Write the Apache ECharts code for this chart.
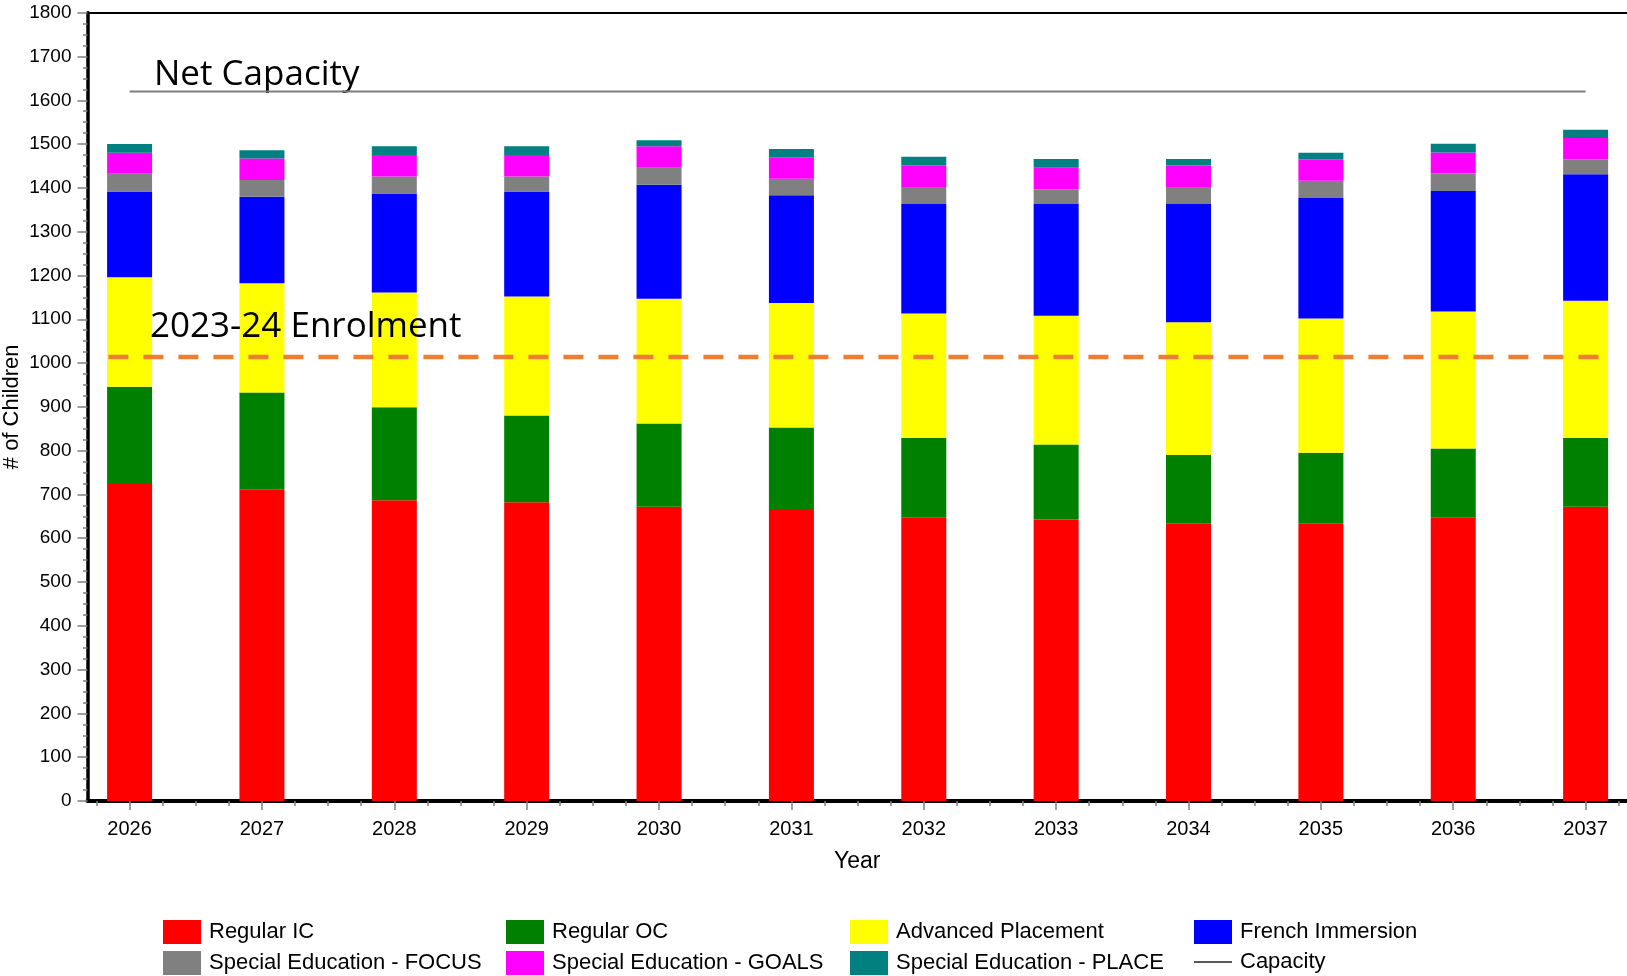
<!DOCTYPE html>
<html>
<head>
<meta charset="utf-8">
<script src="https://cdn.jsdelivr.net/npm/echarts@6/dist/echarts.min.js"></script>
<style>
html,body{margin:0;padding:0;background:#fff;}
#chart{width:1627px;height:976px;}
</style>
</head>
<body>
<div id="chart"></div>
<script>
// ---- data ----
const years = [2026, 2027, 2028, 2029, 2030, 2031, 2032, 2033, 2034, 2035, 2036, 2037];
const regularIC      = [726, 712, 687, 682, 672, 667, 648, 643, 633, 633, 648, 672];
const regularOC      = [220, 221, 212, 198, 190, 186, 181, 171, 157, 162, 157, 157];
const advPlacement   = [250, 249, 262, 272, 285, 284, 284, 294, 303, 307, 313, 313];
const frenchImm      = [196, 198, 226, 240, 260, 246, 250, 255, 270, 275, 275, 289];
const specFocus      = [40, 38, 39, 34, 39, 38, 39, 34, 39, 39, 40, 34];
const specGoals      = [48, 49, 49, 49, 49, 49, 49, 49, 49, 49, 48, 49];
const specPlace      = [20, 19, 20, 20, 14, 19, 20, 20, 15, 15, 20, 19];
const capacityValue  = 1620;
const enrolmentValue = 1014;
const yMin = 0, yMax = 1800, yInterval = 100;

const seriesNames = ['Regular IC', 'Regular OC', 'Advanced Placement', 'French Immersion',
  'Special Education - FOCUS', 'Special Education - GOALS', 'Special Education - PLACE'];
const seriesValues = [regularIC, regularOC, advPlacement, frenchImm, specFocus, specGoals, specPlace];
const seriesColors = ['#FF0000', '#008000', '#FFFF00', '#0000FF', '#808080', '#FF00FF', '#008080'];

// ---- axis helpers ----
const xMin = years[0] - 0.318;
const xMax = years[years.length - 1] + 0.313;
const quarterTicks = [];
for (let q = years[0] - 0.25; q <= years[years.length - 1] + 0.26; q += 0.25) {
  const v = Math.round(q * 100) / 100;
  if (Math.abs(v - Math.round(v)) > 0.01) quarterTicks.push(v);
}
const enrolStart = years[0] - 0.16;
const enrolEnd = years[years.length - 1] + 0.12;

const sans = '"Liberation Sans", Arial, sans-serif';
const yearLabels = years.map(String);

const chart = echarts.init(document.getElementById('chart'), null, {renderer: 'canvas'});

// stacked bars live on a category axis (grid 0) whose bands line up with the year scale of grid 1
const series = seriesNames.map((name, k) => ({
  name: name,
  type: 'bar',
  stack: 'total',
  xAxisIndex: 0,
  yAxisIndex: 0,
  barWidth: 45,
  itemStyle: {color: seriesColors[k]},
  emphasis: {disabled: true},
  data: seriesValues[k]
}));

series.push({
  name: 'Capacity',
  type: 'line',
  xAxisIndex: 1,
  yAxisIndex: 1,
  symbol: 'none',
  itemStyle: {color: '#7F7F7F'},
  lineStyle: {color: '#7F7F7F', width: 2},
  emphasis: {disabled: true},
  z: 5,
  data: years.map(y => [y, capacityValue])
});
series.push({
  name: '2023-24 Enrolment',
  type: 'line',
  xAxisIndex: 1,
  yAxisIndex: 1,
  symbol: 'none',
  itemStyle: {color: '#ED7D31'},
  lineStyle: {color: '#ED7D31', width: 4.5, type: [20, 15]},
  emphasis: {disabled: true},
  z: 6,
  data: [[enrolStart, enrolmentValue], [enrolEnd, enrolmentValue]]
});

const legendBase = {
  orient: 'vertical',
  padding: 0,
  top: 920,
  itemWidth: 38,
  itemHeight: 24,
  itemGap: 7,
  selectedMode: false,
  symbolKeepAspect: true,
  textStyle: {fontFamily: sans, fontSize: 22, color: '#000', padding: [0, 0, 0, 3]}
};
const legendCols = [
  {left: 163, data: [{name: 'Regular IC', icon: 'rect'}, {name: 'Special Education - FOCUS', icon: 'rect'}]},
  {left: 506, data: [{name: 'Regular OC', icon: 'rect'}, {name: 'Special Education - GOALS', icon: 'rect'}]},
  {left: 850, data: [{name: 'Advanced Placement', icon: 'rect'}, {name: 'Special Education - PLACE', icon: 'rect'}]},
  {left: 1194, data: [{name: 'French Immersion', icon: 'rect'},
    {name: 'Capacity', icon: 'path://M0,0H38V1.3H0Z', itemStyle: {color: '#222'}}]}
];

const option = {
  animation: false,
  backgroundColor: '#fff',
  grid: [
    {left: 63.4, right: -24.8, top: 12.7, bottom: 175, containLabel: false, outerBoundsMode: 'none'},
    {left: 87.5, right: 0, top: 12.7, bottom: 175, containLabel: false, outerBoundsMode: 'none'}
  ],
  legend: legendCols.map(c => Object.assign({}, legendBase, c)),
  xAxis: [
    {
      type: 'category', gridIndex: 0, data: yearLabels, boundaryGap: true, show: false
    },
    {
      type: 'value', gridIndex: 1, position: 'bottom', min: xMin, max: xMax,
      axisLine: {show: true, onZero: false, lineStyle: {color: '#000', width: 4}},
      axisTick: {show: true, customValues: years, length: 9, lineStyle: {color: '#808080', width: 1.5}},
      axisLabel: {show: true, customValues: years, margin: 18, fontFamily: sans, fontSize: 20, color: '#000',
        formatter: v => String(Math.round(v))},
      splitLine: {show: false},
      name: 'Year', nameLocation: 'middle', nameGap: 49,
      nameTextStyle: {fontFamily: sans, fontSize: 23, color: '#000'}
    },
    {
      type: 'value', gridIndex: 1, position: 'bottom', min: xMin, max: xMax,
      axisLine: {show: false},
      axisTick: {show: true, customValues: quarterTicks, length: 5, lineStyle: {color: '#808080', width: 1.5}},
      axisLabel: {show: false},
      splitLine: {show: false}
    },
    {
      type: 'value', gridIndex: 1, position: 'top', min: xMin, max: xMax,
      axisLine: {show: true, onZero: false, lineStyle: {color: '#000', width: 2}},
      axisTick: {show: false},
      axisLabel: {show: false},
      splitLine: {show: false}
    }
  ],
  yAxis: [
    {
      type: 'value', gridIndex: 0, min: yMin, max: yMax, interval: yInterval, show: false
    },
    {
      type: 'value', gridIndex: 1, min: yMin, max: yMax, interval: yInterval,
      axisLine: {show: true, lineStyle: {color: '#000', width: 3.5}},
      axisTick: {show: true, length: 10, lineStyle: {color: '#808080', width: 1.5}},
      minorTick: {show: true, splitNumber: 4, length: 4.5, lineStyle: {color: '#808080', width: 1.5}},
      axisLabel: {margin: 16, fontFamily: sans, fontSize: 19, color: '#000', formatter: v => String(v)},
      splitLine: {show: false},
      minorSplitLine: {show: false},
      name: '# of Children', nameLocation: 'middle', nameGap: 65, nameRotate: 90, nameMoveOverlap: false,
      nameTextStyle: {fontFamily: sans, fontSize: 22, color: '#000'}
    }
  ],
  graphic: [
    {type: 'text', left: 154, top: 58, silent: true,
      style: {text: 'Net Capacity', font: '35px "Open Sans"', fill: '#000'}},
    {type: 'text', left: 150, top: 310, silent: true, z: 10,
      style: {text: '2023-24 Enrolment', font: '35px "Open Sans"', fill: '#000'}}
  ],
  series: series
};
chart.setOption(option);
</script>
</body>
</html>
